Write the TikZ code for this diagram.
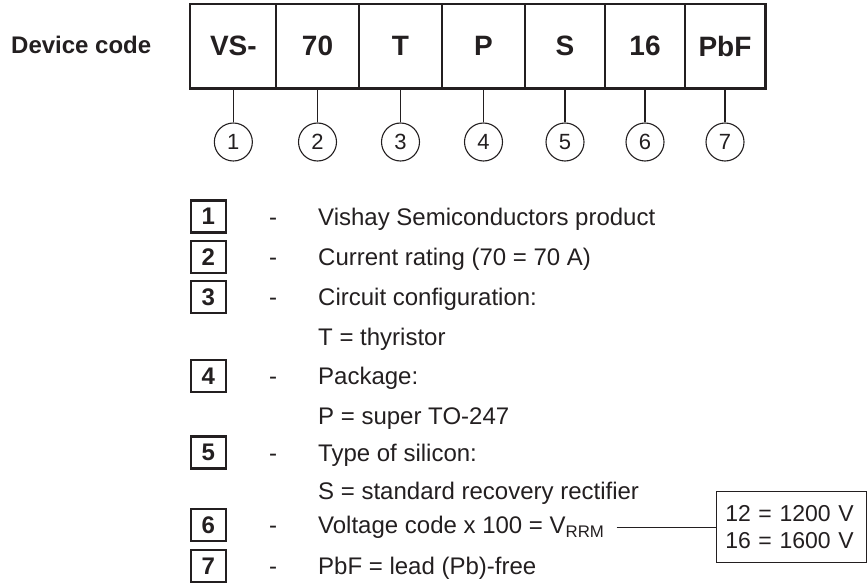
\documentclass[tikz,border=0pt]{standalone}
\usepackage{fontspec}
\setmainfont{Liberation Sans}
\usetikzlibrary{positioning}
\definecolor{ink}{HTML}{231F20}
\newcommand\txtsize{\fontsize{24}{28}\selectfont}

\begin{document}
\begin{tikzpicture}[x=1pt, y=-1pt,
    cell/.style={draw=ink, line width=1.2pt, minimum height=83.3pt, inner sep=0pt, text=ink,
      font=\fontsize{28}{32}\selectfont\bfseries},
    num/.style={draw=ink, circle, line width=1.1pt, minimum size=38pt, inner sep=0pt, text=ink,
      font=\fontsize{22}{25}\selectfont},
    keybox/.style={draw=ink, line width=2.2pt, minimum width=35pt, minimum height=32pt, inner sep=0pt,
      text=ink, font=\fontsize{24}{28}\selectfont\bfseries},
    desc/.style={anchor=base west, inner sep=0pt, text=ink, font=\txtsize},
    lead/.style={draw=ink, line width=1.1pt}
  ]
    \useasboundingbox (0,0) rectangle (867,583);

    \node[anchor=base west, inner sep=0pt, text=ink, font=\fontsize{24}{28}\selectfont\bfseries]
      (devcode) at (11, 53.3) {Device code};

    % code cells and their numbered circles
    \coordinate (numrow) at (0, 142);
    \foreach \i/\l/\r/\t in {1/190.7/276/VS-, 2/276/359/70, 3/359/442/T, 4/442/525/P,
                             5/525/605/S, 6/605/685/16, 7/685/765/PbF}{
      \pgfmathsetmacro\w{\r-\l}
      \node[cell, minimum width=\w pt] (cell\i) at ({(\l+\r)/2}, 46.3) {\t};
      \node[num] (c\i) at (cell\i |- numrow) {\i};
      \draw[lead] (cell\i.south) -- (c\i.north);
    }
    \draw[ink, line width=2.5pt] (cell1.north west) rectangle (cell7.south east);

    % legend
    \foreach \n/\y/\t in {1/216.5/Vishay Semiconductors product,
                          2/257/Current rating (70 = 70 A),
                          3/297/Circuit configuration:,
                          4/376/Package:,
                          5/452.5/Type of silicon:,
                          6/525/Voltage code x 100 = V\textsubscript{RRM},
                          7/566/PbF = lead (Pb)-free}{
      \node[keybox] (key\n) at (208.3, \y) {\n};
      \node[desc, anchor=base] (dash\n) at (273, \y+8.6) {-};
      \node[desc] (txt\n) at (318, \y+8.6) {\t};
    }
    \node[desc] (sub3) at (318, 345.1) {T = thyristor};
    \node[desc] (sub4) at (318, 424.1) {P = super TO-247};
    \node[desc] (sub5) at (318, 499.6) {S = standard recovery rectifier};

    \node[draw=ink, line width=1.1pt, anchor=west, text width=132pt, inner xsep=9pt, inner ysep=0pt,
      minimum height=71pt, align=left, text=ink, font=\fontsize{23}{26.3}\selectfont] (vrrm)
      at (715.7, 527.2) {12 = 1200 V\\16 = 1600 V};
    \draw[lead] ([xshift=12pt]txt6.east |- vrrm.west) -- (vrrm.west);

\end{tikzpicture}
\end{document}
